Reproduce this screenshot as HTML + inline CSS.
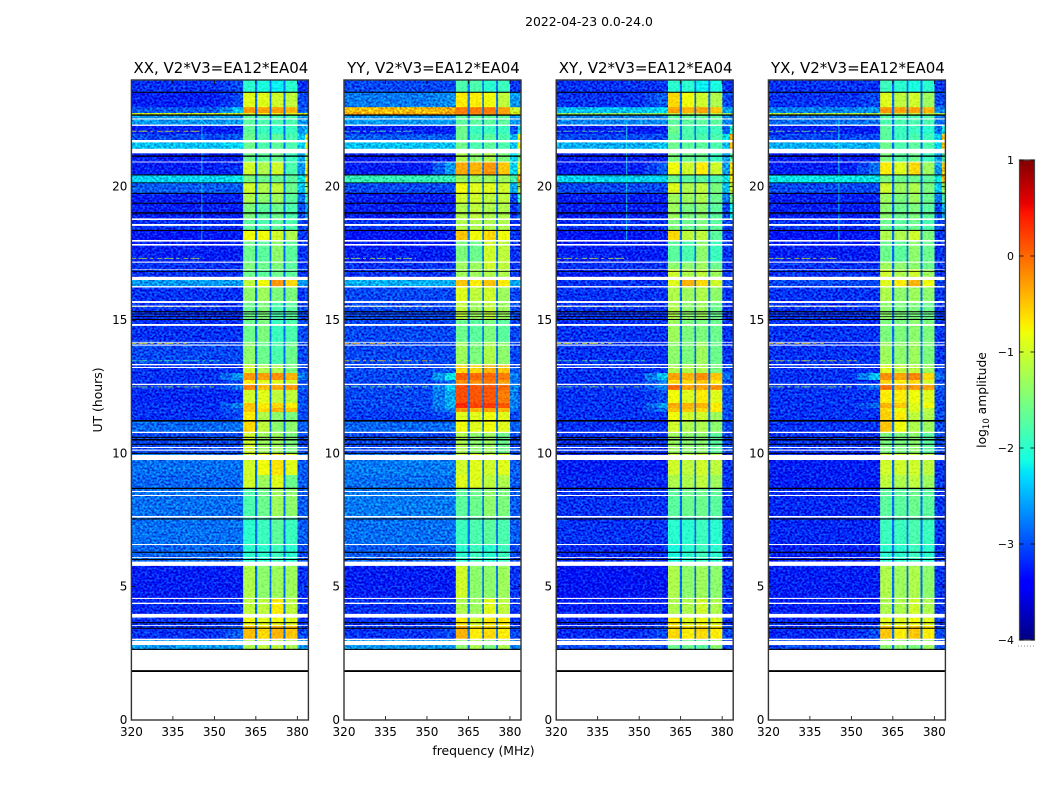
<!DOCTYPE html>
<html>
<head>
<meta charset="utf-8">
<title>2022-04-23 0.0-24.0</title>
<style>
html,body{margin:0;padding:0;background:#fff;}
svg{display:block;}
text{font-family:"DejaVu Sans","Liberation Sans",sans-serif;fill:#000;}
</style>
</head>
<body>
<svg id="chart" xmlns="http://www.w3.org/2000/svg" width="1050" height="800" viewBox="0 0 1050 800">
  <defs>
    <filter id="speckle" filterUnits="userSpaceOnUse" x="0" y="0" width="1050" height="800" color-interpolation-filters="sRGB">
      <feTurbulence type="fractalNoise" baseFrequency="0.42 0.5" numOctaves="1" seed="7" result="t"/>
      <feColorMatrix in="t" type="matrix" values="1.2 0 0 0 -0.1  3 0 0 0 -1  2 0 0 0 -0.5  0 0 0 0 1" result="n"/>
      <feComposite in="SourceGraphic" in2="n" operator="arithmetic" k1="0" k2="1" k3="0.42" k4="-0.24" result="c"/>
      <feComposite in="c" in2="SourceAlpha" operator="in"/>
    </filter>
    <filter id="speckle-soft" filterUnits="userSpaceOnUse" x="0" y="0" width="1050" height="800" color-interpolation-filters="sRGB">
      <feTurbulence type="fractalNoise" baseFrequency="0.42 0.5" numOctaves="1" seed="11" result="t"/>
      <feColorMatrix in="t" type="matrix" values="2 0 0 0 -0.5  2 0 0 0 -0.5  2 0 0 0 -0.5  0 0 0 0 1" result="n"/>
      <feComposite in="SourceGraphic" in2="n" operator="arithmetic" k1="0" k2="1" k3="0.16" k4="-0.08" result="c"/>
      <feComposite in="c" in2="SourceAlpha" operator="in"/>
    </filter>
    <linearGradient id="jet-gradient" x1="0" y1="1" x2="0" y2="0"></linearGradient>
  </defs>
  <text x="589" y="26" font-size="12.4" text-anchor="middle">2022-04-23 0.0-24.0</text>
  <text x="0" y="0" font-size="12.4" text-anchor="middle" transform="translate(102 400) rotate(-90)">UT (hours)</text>
  <text x="483.5" y="755" font-size="12.4" text-anchor="middle">frequency (MHz)</text>
  <g id="panels"></g>
  <g id="colorbar"></g>
  <text font-size="12.3" text-anchor="middle" transform="translate(986 400) rotate(-90)">log<tspan font-size="8.5" dy="3">10</tspan><tspan dy="-3"> amplitude</tspan></text>
</svg>
<script>
// ---- chart data (log10 amplitude, UT hours, MHz) ----
const panelTitles = ['XX, V2*V3=EA12*EA04','YY, V2*V3=EA12*EA04','XY, V2*V3=EA12*EA04','YX, V2*V3=EA12*EA04'];
const xTicks = [320,335,350,365,380];
const yTicks = [0,5,10,15,20];
const cbTicks = [1,0,-1,-2,-3,-4];
const cbTickLabels = ['1','0','\u22121','\u22122','\u22123','\u22124'];
const freqEdges = [320,352,356.5,360.4,364.7,365.5,370,370.6,375,375.7,380,382.8,384];
const rowEdges = [24,23.55,22.98,22.76,22.69,22.31,21.98,21.68,21.26,20.93,20.44,20.14,19.76,19.39,18.79,18.38,18,17.18,16.91,16.5,16.24,15.68,15.04,14.18,13.31,13.01,12.75,12.56,12.38,11.89,11.7,11.55,11.25,10.76,10.01,9.19,8.7,7.61,6.56,5.78,4.54,3.83,3.53,3,2.64];
const gapLevels = [-2.85,-2.8,-2.85,-2.85];
// each row: background, near-band, sub-band 1..4, right side, right edge
const rowsXX = [
[-3.1,-3.0,-2.0,-2.1,-2.2,-2.0,-3.1,-3.1],[-3.2,-3.0,-0.9,-0.9,-1.0,-1.1,-3.0,-3.0],[-2.9,-2.4,-0.25,-0.3,-0.3,-0.4,-2.9,-2.9],[-0.9,-0.9,-0.9,-0.8,-0.8,-0.9,-0.9,-0.9],
[-2.6,-2.6,-1.7,-1.8,-1.8,-1.8,-2.6,-2.6],[-3.2,-3.2,-1.7,-1.9,-2.0,-1.9,-2.6,-2.4],[-3.0,-2.9,-1.6,-1.8,-1.7,-1.8,-2.4,-0.8],[-2.4,-2.3,-1.6,-1.8,-1.7,-1.8,-2.3,-0.8],
[-3.2,-3.2,-1.6,-1.7,-1.6,-1.9,-2.5,-1.2],[-3.2,-3.1,-1.0,-1.2,-1.0,-1.8,-2.6,-0.7],[-2.3,-2.2,-1.5,-1.6,-1.6,-1.7,-2.2,-0.6],[-2.9,-2.9,-1.0,-1.2,-1.1,-1.6,-2.4,-1.2],
[-3.2,-3.2,-1.2,-1.4,-1.3,-1.7,-2.8,-1.8],[-3.2,-3.2,-1.5,-1.7,-1.6,-1.8,-3.0,-2.5],[-3.1,-3.1,-1.7,-1.8,-1.7,-1.8,-3.0,-3.0],[-3.25,-3.2,-0.8,-0.8,-1.0,-1.2,-3.1,-3.1],
[-3.2,-3.2,-1.6,-1.7,-1.4,-1.7,-3.1,-3.1],[-3.1,-3.1,-1.5,-1.6,-1.5,-1.7,-3.1,-3.1],[-3.1,-3.1,-1.6,-1.7,-1.6,-1.7,-3.1,-3.1],[-2.6,-2.6,-1.1,-0.8,-0.25,-0.6,-2.6,-2.6],
[-3.1,-3.1,-1.4,-1.3,-1.5,-1.5,-3.1,-3.0],[-3.1,-3.1,-1.6,-1.5,-1.8,-1.7,-3.0,-3.0],[-3.1,-3.1,-1.6,-1.5,-1.9,-1.8,-3.0,-3.0],[-3.0,-3.0,-1.4,-1.6,-1.8,-1.6,-3.0,-3.0],
[-3.1,-3.1,-1.0,-1.2,-1.2,-1.5,-3.0,-3.0],[-3.1,-2.6,-0.25,-0.3,-0.2,-0.4,-2.7,-2.9],[-3.1,-3.0,-0.7,-0.9,-0.9,-1.0,-3.0,-3.0],[-3.1,-2.8,-0.15,-0.45,-0.35,-0.25,-2.9,-3.0],
[-3.15,-3.1,-1.0,-0.9,-1.1,-1.1,-3.0,-3.0],[-3.1,-2.7,-0.5,-0.7,-0.6,-0.7,-2.9,-3.0],[-3.1,-2.9,-0.5,-0.6,-0.4,-0.5,-3.0,-3.0],[-3.1,-3.0,-0.7,-1.2,-1.4,-1.5,-3.0,-3.0],
[-2.85,-2.8,-0.6,-1.1,-1.4,-1.4,-2.9,-2.9],[-3.0,-3.0,-1.0,-1.3,-1.3,-1.5,-3.0,-3.0],[-2.8,-2.8,-1.0,-0.8,-0.65,-0.9,-2.9,-2.9],[-2.85,-2.85,-1.0,-1.3,-0.9,-1.6,-2.9,-2.9],
[-2.8,-2.8,-1.8,-1.6,-1.3,-1.4,-2.9,-2.9],[-2.8,-2.8,-2.0,-1.9,-1.7,-1.9,-2.9,-2.9],[-2.85,-2.85,-2.0,-2.0,-1.9,-2.0,-3.0,-3.0],[-3.2,-3.2,-1.2,-1.4,-1.3,-1.3,-3.1,-3.1],
[-3.15,-3.1,-1.1,-1.1,-0.7,-1.1,-3.1,-3.1],[-3.1,-3.1,-0.8,-0.9,-0.8,-0.9,-3.1,-3.1],[-3.1,-2.9,-0.45,-0.6,-0.4,-0.5,-3.0,-3.0],[-2.6,-2.6,-1.2,-1.1,-1.1,-1.2,-2.6,-2.6]];
const rowsYY = [
[-3.0,-3.0,-1.8,-1.8,-2.0,-1.9,-3.1,-3.1],[-2.75,-2.65,-0.7,-0.7,-0.8,-1.1,-2.6,-2.6],[-0.5,-0.4,-0.1,-0.1,-0.1,-0.3,-1.0,-1.0],[-0.35,-0.35,-0.2,-0.2,-0.2,-0.3,-0.9,-0.9],
[-2.6,-2.6,-1.7,-1.7,-1.7,-1.7,-2.6,-2.6],[-3.2,-3.2,-1.6,-1.9,-1.9,-1.9,-3.0,-2.2],[-2.9,-2.9,-1.6,-1.8,-1.7,-1.8,-2.4,-0.8],[-2.4,-2.4,-1.6,-1.8,-1.7,-1.8,-2.4,-0.8],
[-3.2,-3.2,-1.2,-1.4,-1.2,-1.5,-2.3,-1.5],[-3.2,-2.6,-0.35,-0.4,-0.25,-0.5,-2.3,-0.8],[-1.9,-1.9,-1.3,-1.3,-1.3,-1.3,-1.8,-0.3],[-3.0,-3.0,-0.8,-0.9,-0.9,-1.0,-2.5,-1.2],
[-3.2,-3.2,-1.0,-1.0,-1.1,-1.1,-3.0,-2.0],[-3.2,-3.2,-1.2,-1.1,-1.2,-1.2,-3.1,-2.8],[-3.1,-3.1,-1.2,-1.2,-1.2,-1.2,-3.1,-3.1],[-3.25,-3.2,-0.5,-0.8,-0.6,-0.8,-3.1,-3.1],
[-3.2,-3.2,-1.5,-1.6,-1.0,-1.1,-3.1,-3.1],[-3.1,-3.1,-1.3,-1.3,-1.0,-1.1,-3.1,-3.1],[-3.1,-3.1,-1.3,-1.3,-1.2,-1.2,-3.1,-3.1],[-2.5,-2.5,-0.5,-0.7,-0.5,-0.7,-2.5,-2.5],
[-3.0,-3.0,-0.9,-1.1,-1.0,-1.3,-3.0,-3.0],[-3.0,-3.0,-1.1,-1.3,-1.1,-1.3,-3.0,-3.0],[-3.0,-3.0,-1.6,-1.7,-1.5,-1.7,-3.0,-3.0],[-3.0,-3.0,-1.3,-1.5,-1.2,-1.4,-3.0,-3.0],
[-3.0,-2.9,-0.6,-0.6,-0.4,-0.5,-2.9,-2.9],[-3.0,-2.2,0.05,0.0,0.0,-0.1,-2.7,-2.9],[-3.0,-2.8,-0.2,-0.2,-0.1,-0.3,-2.8,-2.9],[-3.0,-2.4,0.15,0.1,0.1,0.0,-2.7,-2.9],
[-3.0,-2.5,0.15,0.1,0.1,-0.1,-2.7,-2.9],[-3.0,-2.5,0.35,0.2,0.25,0.1,-2.7,-2.9],[-3.0,-2.7,-0.2,-0.4,-0.3,-0.4,-2.8,-2.9],[-3.05,-3.0,-0.9,-0.9,-0.8,-0.9,-3.0,-3.0],
[-2.85,-2.8,-0.8,-0.9,-0.8,-0.9,-2.9,-2.9],[-3.0,-3.0,-1.2,-1.4,-1.3,-1.6,-3.0,-3.0],[-2.75,-2.75,-1.0,-0.9,-1.0,-0.9,-2.9,-2.9],[-2.8,-2.8,-0.9,-0.9,-1.1,-1.2,-2.9,-2.9],
[-2.75,-2.75,-1.7,-1.6,-1.4,-1.5,-2.9,-2.9],[-2.8,-2.8,-1.9,-1.8,-1.7,-1.8,-2.9,-2.9],[-2.9,-2.9,-2.0,-1.9,-2.0,-1.9,-3.0,-3.0],[-3.2,-3.2,-1.0,-1.4,-1.4,-1.3,-3.1,-3.1],
[-3.1,-3.1,-1.2,-1.3,-0.9,-1.1,-3.1,-3.1],[-3.1,-3.1,-0.7,-1.0,-0.7,-0.7,-3.1,-3.1],[-3.1,-3.0,-0.4,-0.7,-0.6,-0.7,-3.0,-3.0],[-2.6,-2.6,-1.4,-1.2,-1.5,-1.2,-2.7,-2.7]];
const rowsXY = [
[-3.1,-3.1,-2.0,-2.0,-2.2,-2.1,-3.1,-3.1],[-3.1,-2.9,-0.6,-0.8,-1.0,-1.2,-3.0,-3.0],[-2.4,-2.3,-0.3,-0.4,-0.3,-0.5,-2.5,-2.5],[-1.3,-1.3,-1.1,-1.1,-1.1,-1.1,-1.3,-1.3],
[-2.7,-2.7,-1.7,-1.7,-1.7,-1.7,-2.7,-2.7],[-3.2,-3.2,-1.6,-1.8,-1.9,-1.9,-2.9,-2.0],[-3.0,-3.0,-1.7,-1.8,-1.8,-1.8,-2.2,-0.4],[-2.5,-2.4,-1.6,-1.7,-1.7,-1.8,-2.4,-0.4],
[-3.2,-3.2,-1.5,-1.6,-1.6,-1.9,-2.6,-1.8],[-3.2,-2.9,-0.8,-1.0,-0.7,-1.0,-2.6,-0.7],[-2.3,-2.3,-1.6,-1.7,-1.7,-1.8,-2.2,-0.6],[-3.0,-3.0,-0.9,-1.2,-1.1,-1.5,-2.4,-1.0],
[-3.2,-3.2,-1.3,-1.3,-1.2,-1.6,-2.8,-1.6],[-3.2,-3.2,-1.3,-1.5,-1.4,-1.7,-3.0,-2.2],[-3.1,-3.1,-1.5,-1.6,-1.5,-1.7,-3.0,-3.0],[-3.25,-3.2,-0.6,-1.1,-1.1,-1.7,-3.1,-3.1],
[-3.2,-3.2,-1.7,-1.8,-1.4,-1.9,-3.1,-3.1],[-3.1,-3.1,-1.4,-1.4,-1.3,-1.6,-3.1,-3.1],[-3.2,-3.2,-1.0,-1.2,-1.1,-1.3,-3.1,-3.1],[-3.1,-3.1,-0.9,-0.4,-0.6,-1.0,-3.0,-3.0],
[-3.1,-3.1,-1.2,-1.3,-1.2,-1.4,-3.1,-3.1],[-3.1,-3.1,-1.2,-1.4,-1.3,-1.6,-3.1,-3.1],[-3.1,-3.1,-1.3,-1.5,-1.5,-1.6,-3.1,-3.1],[-3.1,-3.1,-1.4,-1.5,-1.3,-1.6,-3.1,-3.1],
[-3.1,-3.1,-1.2,-1.2,-1.2,-1.5,-3.0,-3.0],[-3.1,-2.4,-0.3,-0.4,-0.2,-0.5,-2.8,-3.0],[-3.1,-2.8,-0.6,-0.6,-0.5,-0.7,-3.0,-3.0],[-3.1,-2.7,0.0,-0.3,-0.3,-0.2,-2.9,-3.0],
[-3.1,-3.0,-0.8,-0.9,-0.7,-0.9,-3.0,-3.0],[-3.1,-2.6,-0.35,-0.4,-0.4,-0.7,-2.9,-3.0],[-3.1,-2.8,-0.5,-0.5,-0.6,-0.7,-3.0,-3.0],[-3.1,-3.1,-0.8,-1.0,-1.0,-1.3,-3.0,-3.0],
[-3.1,-3.1,-1.0,-1.2,-1.2,-1.4,-3.0,-3.0],[-3.1,-3.1,-1.3,-1.4,-1.4,-1.7,-3.0,-3.0],[-3.2,-3.2,-1.0,-1.1,-1.0,-1.1,-3.1,-3.1],[-3.15,-3.15,-1.2,-1.2,-1.1,-1.3,-3.1,-3.1],
[-3.1,-3.1,-1.7,-1.6,-1.6,-1.7,-3.1,-3.1],[-3.1,-3.1,-2.0,-2.0,-1.9,-2.0,-3.1,-3.1],[-3.15,-3.15,-2.1,-2.0,-1.9,-2.0,-3.1,-3.1],[-3.25,-3.25,-1.2,-1.4,-1.3,-1.4,-3.1,-3.1],
[-3.2,-3.2,-1.2,-1.2,-1.0,-1.2,-3.1,-3.1],[-3.15,-3.15,-0.7,-0.9,-0.8,-0.9,-3.1,-3.1],[-3.15,-3.0,-0.6,-0.7,-0.6,-0.7,-3.0,-3.0],[-3.0,-3.0,-1.6,-1.6,-1.7,-1.4,-3.0,-3.0]];
const rowsYX = [
[-3.1,-3.1,-1.9,-2.0,-2.1,-2.0,-3.1,-3.1],[-3.1,-3.0,-0.9,-1.1,-1.0,-1.3,-3.0,-3.0],[-2.7,-2.6,-0.25,-0.3,-0.3,-0.4,-2.7,-2.7],[-1.1,-1.1,-1.1,-1.1,-1.1,-1.1,-1.2,-1.2],
[-2.8,-2.8,-1.8,-1.8,-1.8,-1.8,-2.8,-2.8],[-3.2,-3.2,-1.7,-1.9,-1.9,-2.0,-2.8,-2.2],[-3.0,-3.0,-1.7,-1.9,-1.8,-1.9,-2.4,-0.5],[-2.5,-2.5,-1.6,-1.8,-1.7,-1.8,-2.3,-0.5],
[-3.2,-3.2,-1.5,-1.7,-1.6,-1.9,-2.6,-1.8],[-3.2,-2.8,-0.7,-0.9,-0.6,-1.3,-2.6,-0.6],[-2.2,-2.2,-1.5,-1.6,-1.6,-1.7,-2.2,-0.5],[-3.0,-3.0,-1.0,-1.3,-1.2,-1.5,-2.4,-1.3],
[-3.2,-3.2,-1.3,-1.5,-1.3,-1.6,-2.8,-1.8],[-3.2,-3.2,-1.4,-1.6,-1.5,-1.7,-3.0,-2.4],[-3.1,-3.1,-1.6,-1.7,-1.6,-1.8,-3.0,-3.0],[-3.25,-3.2,-1.2,-1.2,-1.0,-1.5,-3.1,-3.1],
[-3.2,-3.2,-1.6,-1.7,-1.4,-1.6,-3.1,-3.1],[-3.1,-3.1,-1.3,-1.4,-1.4,-1.6,-3.1,-3.1],[-3.1,-3.1,-1.0,-1.2,-1.0,-1.3,-3.1,-3.1],[-3.0,-3.0,-0.9,-0.7,-0.4,-0.8,-3.0,-3.0],
[-3.1,-3.1,-1.2,-1.4,-1.3,-1.4,-3.1,-3.1],[-3.1,-3.1,-1.4,-1.5,-1.5,-1.6,-3.1,-3.1],[-3.1,-3.1,-1.5,-1.5,-1.4,-1.5,-3.1,-3.1],[-3.1,-3.1,-1.3,-1.4,-1.3,-1.5,-3.1,-3.1],
[-3.1,-3.1,-0.9,-1.1,-1.1,-1.3,-3.0,-3.0],[-3.1,-2.4,-0.2,-0.3,-0.15,-0.6,-2.8,-3.0],[-3.1,-3.1,-0.6,-0.7,-0.6,-1.0,-3.0,-3.0],[-3.1,-2.8,-0.05,-0.35,-0.25,-0.3,-2.9,-3.0],
[-3.1,-3.1,-0.7,-0.7,-0.8,-0.9,-3.0,-3.0],[-3.1,-2.8,-0.4,-0.5,-0.9,-0.8,-3.0,-3.0],[-3.1,-3.1,-0.6,-0.8,-0.9,-1.1,-3.0,-3.0],[-3.1,-3.1,-0.55,-0.7,-1.1,-1.2,-3.0,-3.0],
[-3.1,-3.1,-0.5,-0.8,-1.2,-1.3,-3.0,-3.0],[-3.1,-3.1,-1.5,-1.5,-1.4,-1.7,-3.0,-3.0],[-3.2,-3.2,-1.0,-1.0,-1.0,-1.1,-3.1,-3.1],[-3.2,-3.2,-1.1,-1.2,-1.1,-1.3,-3.1,-3.1],
[-3.15,-3.15,-1.7,-1.7,-1.6,-1.7,-3.1,-3.1],[-3.15,-3.15,-1.9,-1.9,-1.8,-1.9,-3.1,-3.1],[-3.2,-3.2,-2.0,-2.0,-1.9,-2.0,-3.1,-3.1],[-3.2,-3.2,-1.2,-1.3,-1.2,-1.4,-3.1,-3.1],
[-3.2,-3.2,-1.2,-1.2,-1.0,-1.2,-3.1,-3.1],[-3.15,-3.15,-0.9,-0.9,-0.8,-0.9,-3.1,-3.1],[-3.15,-3.0,-0.5,-0.7,-0.5,-0.7,-3.0,-3.0],[-3.0,-3.0,-1.4,-1.4,-1.5,-1.3,-3.0,-3.0]];
const streakUT = [22.08,17.31,15.5,14.12,13.47,12.49];
const streakStart = [320,320,320,320,320,320];
const streakEnd = [345,346,352,340,352,350];
const streakLevelXX = [-0.9,-1.0,-0.8,-0.7,-1.7,-1.2];
const streakLevelYY = [-1.8,-1.1,-0.9,-0.5,-0.6,-1.5];
const streakLevelXY = [-1.7,-0.9,-0.9,-0.8,-1.6,-1.3];
const streakLevelYX = [-1.5,-0.9,-0.9,-0.6,-0.8,-1.2];
const rfiFreq = [345.3,345.3,345.3,345.3];
const rfiSpan = [22.4,18];
const rfiLevel = [-2.2,-3,-2.1,-2.1];
const whiteGaps = [[22.56,22.52],[22.33,22.28],[21.75,21.66],[21.42,21.25],[20.94,20.91],[18.81,18.75],[18.6,18.53],[18,17.94],[17.85,17.79],[17.19,17.15],[16.9,16.88],[16.62,16.5],[16.27,16.22],[15.71,15.64],[15.54,15.5],[14.85,14.78],[14.18,14.15],[14.08,14.04],[13.35,13.3],[13.24,13.2],[12.61,12.56],[10.81,10.76],[10.24,10.2],[10.14,10.1],[9.94,9.75],[8.59,8.55],[8.44,8.4],[7.65,7.59],[6.6,6.56],[6.11,6.08],[5.94,5.78],[4.58,4.54],[4.4,4.35],[3.98,3.84],[3.56,3.53],[3.05,3],[2.97,2.81]];
const blackGaps = [[23.56,23.52],[22.71,22.66],[21.17,21.12],[20.46,20.42],[20.16,20.13],[19.77,19.73],[19.4,19.36],[19.05,19.02],[19,18.97],[18.38,18.34],[16.84,16.81],[15.33,15.29],[15.24,15.21],[15.14,15.11],[15.04,15],[11.25,11.19],[10.62,10.58],[10.54,10.48],[10.36,10.32],[10.02,9.98],[8.71,8.66],[7.56,7.52],[6.31,6.27],[6.04,6],[3.67,3.63],[3.46,3.42],[2.67,2.63],[1.87,1.8]];

const panelRows = [rowsXX,rowsYY,rowsXY,rowsYX];
const panelStreaks = [streakLevelXX,streakLevelYY,streakLevelXY,streakLevelYX];

// ---- layout and axis functions ----
const NS = 'http://www.w3.org/2000/svg';
const panelLeft = [131.4,344,556.2,768.4];
const panelWidth = 177, plotTop = 80, plotBottom = 720;
const xScale = (p,f) => panelLeft[p] + (f-320)/64*panelWidth;
const yScale = ut => plotBottom - ut/24*(plotBottom-plotTop);
const cbTop = 160, cbBottom = 640, cbLeft = 1019.5, cbWidth = 15;
const cbScale = v => cbBottom - (v+4)/5*(cbBottom-cbTop);

function interp(pts,t){
  for(let i=1;i<pts.length;i++){
    if(t<=pts[i][0]){
      const a=pts[i-1],b=pts[i];
      return a[1]+(b[1]-a[1])*(t-a[0])/(b[0]-a[0]);
    }
  }
  return pts[pts.length-1][1];
}
const jetR=[[0,0],[.35,0],[.66,1],[.89,1],[1,.5]];
const jetG=[[0,0],[.125,0],[.375,1],[.64,1],[.91,0],[1,0]];
const jetB=[[0,.5],[.11,1],[.34,1],[.65,0],[1,0]];
function jet(v){
  const t=Math.max(0,Math.min(1,(v+4)/5));
  return 'rgb('+[jetR,jetG,jetB].map(c=>Math.round(255*interp(c,t))).join(',')+')';
}
function make(tag,attrs,parent){
  const el=document.createElementNS(NS,tag);
  for(const k in attrs){el.setAttribute(k,attrs[k]);}
  parent.appendChild(el);
  return el;
}

const panelsRoot=document.getElementById('panels');
// column -> row value index; -1 = channel gap level, -2 = midway between background and near-band
const colLevelIndex=[0,-2,1,2,-1,3,-1,4,-1,5,6,7];
const softCols=[3,4,5,6,7,8,9];

panelTitles.forEach((title,p)=>{
  const g=make('g',{},panelsRoot);
  
  

  const heat=make('g',{filter:'url(#speckle)'},g);
  
  

  const heatBand=make('g',{filter:'url(#speckle-soft)'},g);
  
  

  panelRows[p].forEach((row,r)=>{
    const y0=yScale(rowEdges[r]), y1=yScale(rowEdges[r+1]);
    for(let c=0;c<colLevelIndex.length;c++){
      const idx=colLevelIndex[c];
      const level=idx===-1?gapLevels[p]:idx===-2?(row[0]+row[1])/2:row[idx];
      const x0=xScale(p,freqEdges[c]), x1=xScale(p,freqEdges[c+1]);
      const target=softCols.includes(c)?heatBand:heat;
      const cell=make('rect',{x:x0,y:y0,width:x1-x0+0.2,height:y1-y0+0.3,fill:jet(level)},target);
      
      
    }
  });

  streakUT.forEach((ut,i)=>{
    const yS=yScale(ut);
    const s=make('line',{x1:xScale(p,streakStart[i]),x2:xScale(p,streakEnd[i]),y1:yS,y2:yS,stroke:jet(panelStreaks[p][i]),'stroke-width':1,'stroke-dasharray':'5 2 9 3 3 4',opacity:0.7},g);
    
    
  });

  const rfi=make('rect',{x:xScale(p,rfiFreq[p]),y:yScale(rfiSpan[0]),width:1,height:yScale(rfiSpan[1])-yScale(rfiSpan[0]),fill:jet(rfiLevel[p]),opacity:rfiLevel[p]<-2.5?0:0.7},g);
  
  

  whiteGaps.forEach(gap=>{
    const w=make('rect',{x:panelLeft[p],y:yScale(gap[0]),width:panelWidth,height:yScale(gap[1])-yScale(gap[0]),fill:'#fff'},g);
    
    
  });
  blackGaps.forEach(gap=>{
    const b=make('rect',{x:panelLeft[p],y:yScale(gap[0]),width:panelWidth,height:yScale(gap[1])-yScale(gap[0]),fill:'#000'},g);
    
    
  });

  xTicks.forEach(t=>{
    const x=xScale(p,t);
    const bottomTick=make('line',{x1:x,x2:x,y1:plotBottom,y2:plotBottom-4,stroke:'#000','stroke-width':0.8},g);
    
    
    const topTick=make('line',{x1:x,x2:x,y1:plotTop,y2:plotTop+4,stroke:'#000','stroke-width':0.8},g);
    
    
    const label=make('text',{x:x,y:736,'font-size':12,'text-anchor':'middle'},g);
    
    
    label.textContent=t;
  });
  yTicks.forEach(t=>{
    const y=yScale(t);
    const leftTick=make('line',{x1:panelLeft[p],x2:panelLeft[p]+4,y1:y,y2:y,stroke:'#000','stroke-width':0.8},g);
    
    
    const rightTick=make('line',{x1:panelLeft[p]+panelWidth,x2:panelLeft[p]+panelWidth-4,y1:y,y2:y,stroke:'#000','stroke-width':0.8},g);
    
    
    const label=make('text',{x:panelLeft[p]-4,y:y+4,'font-size':12,'text-anchor':'end'},g);
    
    
    label.textContent=t;
  });

  const frame=make('rect',{x:panelLeft[p],y:plotTop,width:panelWidth,height:plotBottom-plotTop,fill:'none',stroke:'#333','stroke-width':1.4},g);
  
  

  const ttl=make('text',{x:panelLeft[p]+panelWidth/2+1,y:73,'font-size':15,'text-anchor':'middle'},g);
  
  
  ttl.textContent=title;
});

// ---- colorbar ----
const grad=document.getElementById('jet-gradient');
[0,.11,.125,.34,.35,.375,.64,.65,.66,.89,.91,1].forEach(t=>{
  make('stop',{offset:t,'stop-color':jet(t*5-4)},grad);
});
const cb=document.getElementById('colorbar');
const cbBar=make('rect',{x:cbLeft,y:cbTop,width:cbWidth,height:cbBottom-cbTop,fill:'url(#jet-gradient)',stroke:'#444','stroke-width':1.2},cb);


cbTicks.forEach((v,i)=>{
  const y=cbScale(v);
  const l=make('line',{x1:cbLeft,x2:cbLeft+4,y1:y,y2:y,stroke:'#000','stroke-width':0.8},cb);
  
  
  const rt=make('line',{x1:cbLeft+cbWidth,x2:cbLeft+cbWidth-4,y1:y,y2:y,stroke:'#000','stroke-width':0.8},cb);
  
  
  const lab=make('text',{x:1014,y:y+4,'font-size':11,'text-anchor':'end'},cb);
  
  
  lab.textContent=cbTickLabels[i];
});
const cbDots=make('line',{x1:1018,x2:1035,y1:646,y2:646,stroke:'#888','stroke-width':1,'stroke-dasharray':'1 2'},cb);


</script>
</body>
</html>
